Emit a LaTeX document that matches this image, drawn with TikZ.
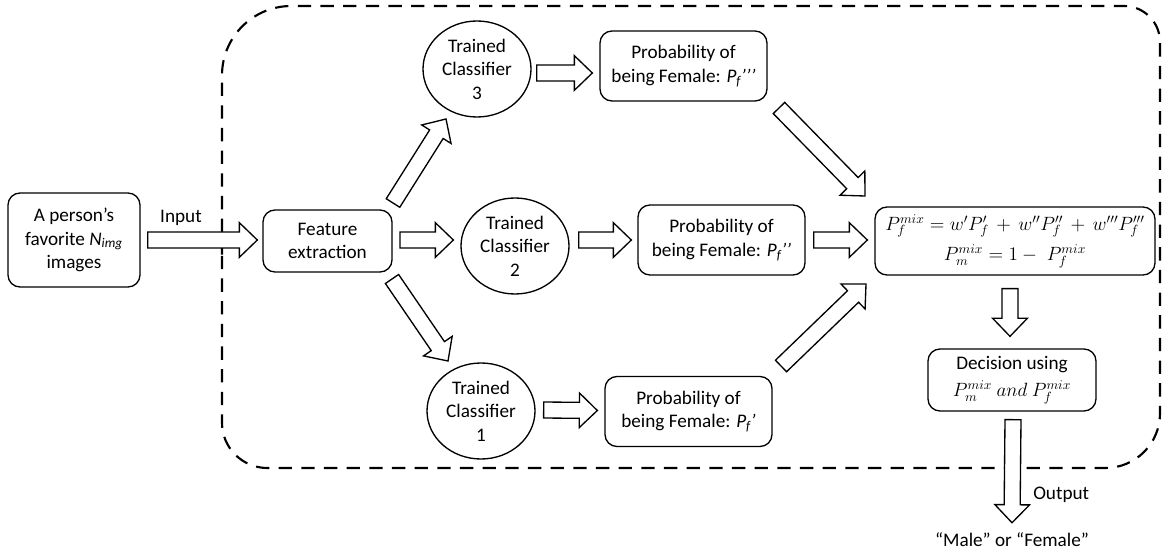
\documentclass[tikz,border=0pt]{standalone}
\usepackage{fontspec}
\setmainfont{Carlito}
\usetikzlibrary{calc,shapes.geometric}
\tikzset{
  box/.style={draw, rounded corners=9pt, line width=1pt, align=center, inner sep=0pt,
    font=\fontsize{14.4}{17.6}\selectfont},
  clf/.style={draw, ellipse, line width=1pt, align=center, inner sep=0pt,
    minimum width=81pt, minimum height=72pt, font=\fontsize{14.4}{17.6}\selectfont},
  prob/.style={box, minimum width=125.25pt, minimum height=52.5pt},
  lbl/.style={inner sep=0pt, font=\fontsize{14.4}{17}\selectfont},
  barrowstyle/.style={draw, line width=1pt, fill=white, line join=miter},
  frame/.style={draw, line width=1.6pt, dash pattern=on 10pt off 7pt}
}
\newcommand\barrow[2]{%
  \coordinate (bh) at ($(#2)!13.5pt!(#1)$);
  \draw[barrowstyle] ($(#1)!6pt!90:(#2)$) -- ($(bh)!6pt!-90:(#1)$) -- ($(bh)!13pt!-90:(#1)$) -- (#2) -- ($(bh)!13pt!90:(#1)$) -- ($(bh)!6pt!90:(#1)$) -- ($(#1)!6pt!-90:(#2)$) -- cycle;
}
\begin{document}
\begin{tikzpicture}[x=0.75pt,y=-0.75pt]
\useasboundingbox (0,0) rectangle (1171,552);
% dashed frame
\draw[frame] (222,300) [rounded corners=52pt] -- (222,6) [rounded corners=27pt] -- (1160,6) [rounded corners=41pt] -- (1160,468) [rounded corners=34pt] -- (222,468) -- cycle;

% nodes
\node[box, minimum width=99pt, minimum height=70.5pt] (inp) at (74,240) {A person’s\\favorite \textit{N}\textsubscript{\textit{img}}\\images};
\node[box, minimum width=96.75pt, minimum height=46.5pt] (fe) at (327.5,241) {Feature\\extraction};
\node[clf] (c3) at (477,69) {Trained\\Classifier\\3};
\node[clf] (c2) at (515,246) {Trained\\Classifier\\2};
\node[clf] (c1) at (481,411) {Trained\\Classifier\\1};
\node[prob] (p3) at (683.5,66) {Probability of\\being Female: \textit{P\textsubscript{f}’’’}};
\node[prob] (p2) at (721.5,240) {Probability of\\being Female: \textit{P\textsubscript{f}’’}};
\node[prob] (p1) at (688.5,411.5) {Probability of\\being Female: \textit{P\textsubscript{f}’}};
\node[box, minimum width=210pt, minimum height=51pt] (fm) at (1015,241)
  {$P_f^{mix} = w'P_f' \,+\, w''P_f'' \,+\, w'''P_f'''$\\[5pt]$P_m^{mix} = 1 -\; P_f^{mix}$};
\node[box, minimum width=126pt, minimum height=46.5pt] (dec) at (1012,380)
  {Decision using\\[3pt]$P_m^{mix}\ and\ P_f^{mix}$};
\node[lbl] (res) at (1012,540) {“Male” or “Female”};
\node[lbl] (inl) at (181,218) {Input};
\node[lbl, anchor=west] (outl) at (1033,495) {Output};

% arrow end points
\coordinate (a1s) at ($(inp.east)+(7,0)$);   \coordinate (a1e) at ($(fe.west)+(-5,-1)$);
\coordinate (a2s) at (400,240);  \coordinate (a2e) at ($(c2.west)+(-7,-6)$);
\coordinate (a3s) at ($(c2.east)+(9,-6)$);   \coordinate (a3e) at ($(p2.west)+(-6,0)$);
\coordinate (a4s) at ($(c3.east)+(5,4)$);    \coordinate (a4e) at ($(p3.west)+(-7,7)$);
\coordinate (a5s) at ($(c1.east)+(8,-1)$);   \coordinate (a5e) at ($(p1.west)+(-7,-1)$);
\coordinate (a6s) at ($(p2.east)+(8,0)$);    \coordinate (a6e) at ($(fm.west)+(-7,-1)$);
\coordinate (a7s) at (393,203);  \coordinate (a7e) at (446,119);
\coordinate (a8s) at (392,279);  \coordinate (a8e) at (448,361);
\coordinate (a9s) at (779,108);  \coordinate (a9e) at (865,196);
\coordinate (a10s) at (781,366); \coordinate (a10e) at (866,284);
\coordinate (a11s) at ($(fm.south)+(-5,13)$); \coordinate (a11e) at ($(dec.north)+(-2,-12)$);
\coordinate (a12s) at ($(dec.south)+(1,8)$);  \coordinate (a12e) at ($(res.north)+(0,-10)$);

\barrow{a1s}{a1e}
\barrow{a2s}{a2e}
\barrow{a3s}{a3e}
\barrow{a4s}{a4e}
\barrow{a5s}{a5e}
\barrow{a6s}{a6e}
\barrow{a7s}{a7e}
\barrow{a8s}{a8e}
\barrow{a9s}{a9e}
\barrow{a10s}{a10e}
\barrow{a11s}{a11e}
\barrow{a12s}{a12e}
\end{tikzpicture}
\end{document}
